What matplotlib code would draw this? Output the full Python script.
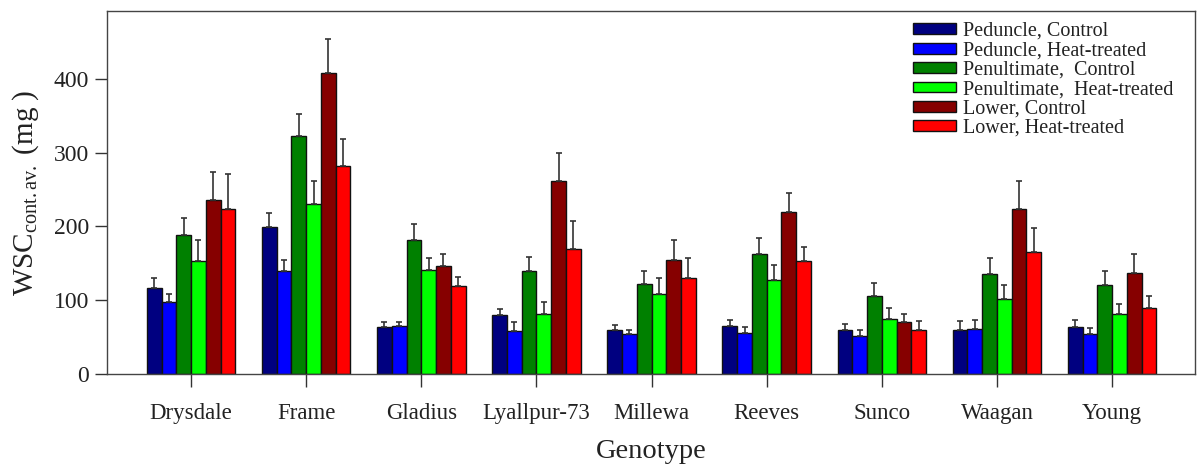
import matplotlib
matplotlib.use("Agg")
import matplotlib.pyplot as plt
import numpy as np

plt.rcParams['font.family'] = ['Liberation Serif', 'DejaVu Serif']
plt.rcParams['mathtext.fontset'] = 'custom'
plt.rcParams['mathtext.rm'] = 'Liberation Serif'
plt.rcParams['mathtext.it'] = 'Liberation Serif:italic'

genotypes = ["Drysdale", "Frame", "Gladius", "Lyallpur-73", "Millewa", "Reeves", "Sunco", "Waagan", "Young"]
series_labels = ["Peduncle, Control", "Peduncle, Heat-treated", "Penultimate,  Control",
                 "Penultimate,  Heat-treated", "Lower, Control", "Lower, Heat-treated"]
colors = ["#000080", "#0000ff", "#008000", "#00ff00", "#860000", "#ff0000"]

peduncle_control = [117, 199, 64, 80, 60, 65, 60, 60, 64]
peduncle_heat = [97, 139, 65, 58, 54, 56, 51, 61, 54]
penultimate_control = [188, 322, 181, 139, 122, 163, 106, 135, 120]
penultimate_heat = [153, 230, 141, 82, 109, 127, 75, 102, 82]
lower_control = [236, 408, 146, 262, 155, 219, 71, 223, 137]
lower_heat = [223, 282, 119, 170, 130, 153, 60, 166, 90]

peduncle_control_err = [13, 19, 7, 8, 6, 8, 8, 12, 9]
peduncle_heat_err = [12, 16, 6, 12, 6, 8, 8, 12, 8]
penultimate_control_err = [24, 31, 22, 20, 17, 22, 18, 22, 20]
penultimate_heat_err = [28, 31, 16, 16, 21, 21, 15, 18, 13]
lower_control_err = [38, 46, 17, 38, 26, 26, 11, 38, 26]
lower_heat_err = [48, 36, 13, 37, 27, 19, 12, 32, 16]

values = [peduncle_control, peduncle_heat, penultimate_control, penultimate_heat, lower_control, lower_heat]
errors = [peduncle_control_err, peduncle_heat_err, penultimate_control_err,
          penultimate_heat_err, lower_control_err, lower_heat_err]

fig = plt.figure(figsize=(12, 4.67), dpi=100)
ax = fig.add_axes([0.0892, 0.1991, 0.9066, 0.7773])

x = np.arange(len(genotypes))
w = 0.128
n = len(values)
for i, (vals, errs, c, lab) in enumerate(zip(values, errors, colors, series_labels)):
    pos = x + (i - (n - 1) / 2) * w
    ax.bar(pos, vals, width=w, color=c, edgecolor='#111111', linewidth=1.0, label=lab, zorder=2)
    ax.errorbar(pos, vals, yerr=[np.zeros(len(errs)), errs], fmt='none', ecolor='#333333',
                elinewidth=1.2, capsize=2.5, capthick=1.2, zorder=3)

ax.set_xlim(-0.73, 8.72)
ax.set_ylim(0, 492)
ax.set_xticks(x)
ax.set_xticklabels(genotypes, fontsize=16.5)
ax.set_yticks([0, 100, 200, 300, 400])
ax.tick_params(axis='y', labelsize=17, direction='out', length=9, width=1, colors='#333333', labelcolor='#222222', pad=4)
ax.tick_params(axis='x', direction='out', length=9, width=1, colors='#333333', labelcolor='#222222', pad=12)
for s in ax.spines.values():
    s.set_color('#444444')
    s.set_linewidth(1.0)

ax.set_xlabel("Genotype", fontsize=20.5, color='#222222', labelpad=11)
ax.set_ylabel(r"WSC$_{\mathrm{cont.av.}}$ (mg )", fontsize=21, color='#222222', labelpad=9)

leg = ax.legend(loc='upper left', bbox_to_anchor=(913 / 1200, 1 - 22 / 467), bbox_transform=fig.transFigure,
                frameon=False, fontsize=14.5, handlelength=2.15, handleheight=0.45, handletextpad=0.35,
                labelspacing=0.02, borderpad=0, borderaxespad=0)
for t in leg.get_texts():
    t.set_color('#222222')

fig.savefig("out.png", dpi=100)
